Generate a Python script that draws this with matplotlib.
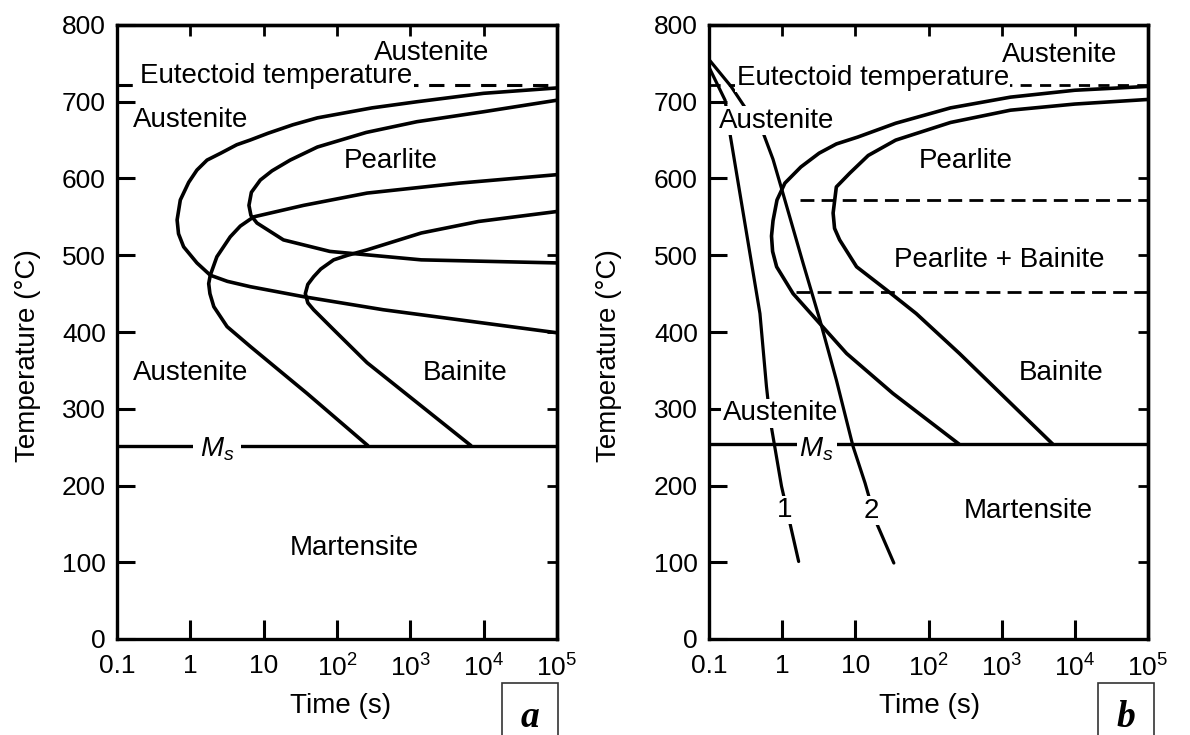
import matplotlib
matplotlib.use("Agg")
import matplotlib.pyplot as plt
from matplotlib.patches import Rectangle
from matplotlib.ticker import NullLocator

plt.rcParams['font.family'] = ['Liberation Sans', 'DejaVu Sans']
plt.rcParams['mathtext.fontset'] = 'custom'
plt.rcParams['mathtext.rm'] = 'Liberation Sans'
plt.rcParams['mathtext.it'] = 'Liberation Sans:italic'

# Axis ticks
temp_ticks = [0, 100, 200, 300, 400, 500, 600, 700, 800]
time_ticks = [0.1, 1, 10, 100, 1e3, 1e4, 1e5]
time_labels = ['0.1', '1', '10', r'$10^2$', r'$10^3$', r'$10^4$', r'$10^5$']
inner_time_ticks = [1, 10, 100, 1e3, 1e4]

# Panel a: isothermal transformation curves (time s, temperature C)
a_pstart_t = [1e5, 1e4, 1230, 300, 54, 25, 11.5, 6.5, 4.3, 2.6, 1.69, 1.23, 0.95, 0.73,
              0.66, 0.69, 0.81, 1.23, 1.87, 3.2, 6.6, 35, 427, 1e5]
a_pstart_T = [718, 711, 700, 692, 679, 670, 659, 650, 644, 633, 624, 611, 595, 572,
              546, 528, 511, 490, 474, 466, 459, 446, 429, 399]
a_pfinish_t = [1e5, 1e4, 1230, 250, 54, 23, 13, 9.0, 6.8, 6.3, 6.7, 8.1, 18.6, 80, 1410, 1e5]
a_pfinish_T = [702, 687, 674, 660, 641, 624, 610, 598, 582, 565, 552, 542, 520, 505, 494, 490]
a_bstart_t = [1e5, 4700, 257, 35, 7.3, 4.8, 3.5, 2.3, 1.87, 1.78, 1.85, 2.09, 3.17, 6.6, 39, 263]
a_bstart_T = [605, 594, 581, 565, 550, 538, 524, 498, 474, 463, 450, 433, 407, 381, 320, 252]
a_bfinish_t = [1e5, 8500, 1410, 257, 140, 90, 60, 48, 40, 37, 40, 48, 90, 257, 6700]
a_bfinish_T = [557, 544, 529, 507, 500, 494, 482, 472, 462, 450, 438, 429, 403, 360, 252]
a_ms = 252
a_eutectoid = 722

# Panel b: continuous cooling curves
b_pstart_t = [1e5, 1e4, 1318, 200, 35.6, 10.8, 5.5, 3.2, 1.8, 1.09, 0.85, 0.75, 0.715,
              0.74, 0.84, 1.41, 3.27, 7.6, 32.6, 261]
b_pstart_T = [720, 715, 706, 692, 672, 654, 645, 633, 615, 594, 572, 545, 525,
              505, 485, 450, 411, 372, 320, 254]
b_pfinish_t = [1e5, 1e4, 1318, 200, 35.6, 15, 8.4, 5.5, 4.97, 5.2, 6.1, 10.4, 26.5, 68, 265, 4980]
b_pfinish_T = [703, 697, 689, 673, 650, 630, 607, 589, 555, 535, 520, 485, 455, 424, 372, 254]
b_cool1_t = [0.1, 0.166, 0.193, 0.497, 0.61, 0.684, 0.98, 1.68]
b_cool1_T = [745, 702, 659, 424, 329, 286, 199, 101]
b_cool2_t = [0.1, 0.2, 0.34, 0.537, 0.75, 1.03, 1.94, 3.27, 5.52, 9.3, 13.6, 19.5, 33.6]
b_cool2_T = [755, 720, 687, 662, 625, 580, 489, 416, 337, 251, 203, 151, 99]
b_upper_dash_t = [1.74, 1e5]
b_upper_dash_T = [572, 572]
b_lower_dash_t = [1.57, 1e5]
b_lower_dash_T = [452, 452]
b_ms = 254
b_eutectoid = 722

LW = 2.6
white = dict(facecolor='white', edgecolor='none', pad=1.0)


def setup_axes(ax, right_ticks):
    ax.set_xscale('log')
    ax.set_xlim(0.1, 1e5)
    ax.set_ylim(0, 800)
    ax.set_xticks(time_ticks)
    ax.set_xticklabels(time_labels)
    ax.xaxis.set_minor_locator(NullLocator())
    ax.set_yticks(temp_ticks)
    ax.tick_params(axis='y', direction='in', length=13, width=2.2, labelsize=19, pad=8)
    ax.tick_params(axis='x', direction='in', length=14, width=2.2, labelsize=19, pad=11)
    for s in ax.spines.values():
        s.set_linewidth(2.4)
    # short ticks on the right and top edges
    sec_y = ax.secondary_yaxis('right')
    sec_y.set_yticks(right_ticks)
    sec_y.tick_params(direction='in', length=7, width=2, labelright=False)
    sec_y.spines['right'].set_linewidth(2.4)
    sec_x = ax.secondary_xaxis('top')
    sec_x.set_xticks(inner_time_ticks)
    sec_x.xaxis.set_minor_locator(NullLocator())
    sec_x.tick_params(direction='in', length=8, width=2, labeltop=False)
    sec_x.spines['top'].set_linewidth(2.4)


def curve(ax, t, T, lw=LW):
    ax.plot(t, T, color='black', lw=lw, solid_joinstyle='round', solid_capstyle='round')


def label(ax, t, T, text, box=False, size=20):
    ax.text(t, T, text, ha='center', va='baseline', fontsize=size, zorder=5,
            bbox=white if box else None)


fig = plt.figure(figsize=(11.9, 7.35), dpi=100)

# ---------------- panel a ----------------
ax = fig.add_axes([117 / 1190, 1 - 639 / 735, 440 / 1190, 614 / 735])
setup_axes(ax, [100, 200, 300, 400, 500])
curve(ax, a_pstart_t, a_pstart_T)
curve(ax, a_pfinish_t, a_pfinish_T)
curve(ax, a_bstart_t, a_bstart_T)
curve(ax, a_bfinish_t, a_bfinish_T)
ax.axhline(a_ms, color='black', lw=2.4)
ax.axhline(a_eutectoid, color='black', lw=2.2, ls=(0, (5, 3.5)))

label(ax, 1923, 754, 'Austenite')
label(ax, 14.8, 724, 'Eutectoid temperature', box=True)
label(ax, 1.02, 667, 'Austenite')
label(ax, 547, 614, 'Pearlite')
label(ax, 1.02, 337, 'Austenite')
label(ax, 5600, 337, 'Bainite')
ax.text(2.3, 238, r'$M_s$', ha='center', va='baseline', fontsize=20, zorder=5,
        bbox=dict(facecolor='white', edgecolor='none', pad=5))
label(ax, 171, 109, 'Martensite')

# ---------------- panel b ----------------
bx = fig.add_axes([709 / 1190, 1 - 639 / 735, 439 / 1190, 614 / 735])
setup_axes(bx, [100, 200, 300, 400, 500, 600])
curve(bx, b_pstart_t, b_pstart_T)
curve(bx, b_pfinish_t, b_pfinish_T)
curve(bx, b_cool1_t, b_cool1_T, lw=2.3)
curve(bx, b_cool2_t, b_cool2_T, lw=2.3)
bx.plot(b_upper_dash_t, b_upper_dash_T, color='black', lw=2.0, ls=(0, (5, 2.6)))
bx.plot(b_lower_dash_t, b_lower_dash_T, color='black', lw=2.0, ls=(0, (5, 2.6)))
bx.axhline(b_ms, color='black', lw=2.4)
bx.axhline(b_eutectoid, color='black', lw=2.0, ls=(0, (4, 3)))

label(bx, 6100, 752, 'Austenite')
label(bx, 17.4, 722, 'Eutectoid temperature', box=True)
label(bx, 0.835, 666, 'Austenite', box=True)
label(bx, 321, 614, 'Pearlite')
label(bx, 918, 485, 'Pearlite + Bainite')
label(bx, 6490, 337, 'Bainite')
label(bx, 0.945, 285, 'Austenite', box=True)
bx.text(2.95, 238, r'$M_s$', ha='center', va='baseline', fontsize=20, zorder=5,
        bbox=dict(facecolor='white', edgecolor='none', pad=2))
label(bx, 2323, 158, 'Martensite')
label(bx, 1.095, 159, '1', box=True)
label(bx, 16.4, 158, '2', box=True)

# axis titles
for xc, yc in [(28, 356), (609, 356)]:
    fig.text(xc / 1190, 1 - yc / 735, 'Temperature (\u00b0C)', rotation=90,
             ha='center', va='center', fontsize=20)
for xc in [341, 930]:
    fig.text(xc / 1190, 1 - 713 / 735, 'Time (s)', ha='center', va='baseline', fontsize=20)

# panel letters in boxes
for x0, x1, letter in [(502, 558, 'a'), (1098, 1154, 'b')]:
    fig.add_artist(Rectangle((x0 / 1190, -0.01), (x1 - x0) / 1190, 1 - 683 / 735 + 0.01,
                             transform=fig.transFigure, fill=False,
                             edgecolor='#333333', lw=1.2))
    fig.text((x0 + x1) / 2 / 1190, 1 - 727 / 735, letter, ha='center', va='baseline',
             fontsize=27, family='Liberation Serif', weight='bold', style='italic')

fig.savefig('out.png', dpi=100)
